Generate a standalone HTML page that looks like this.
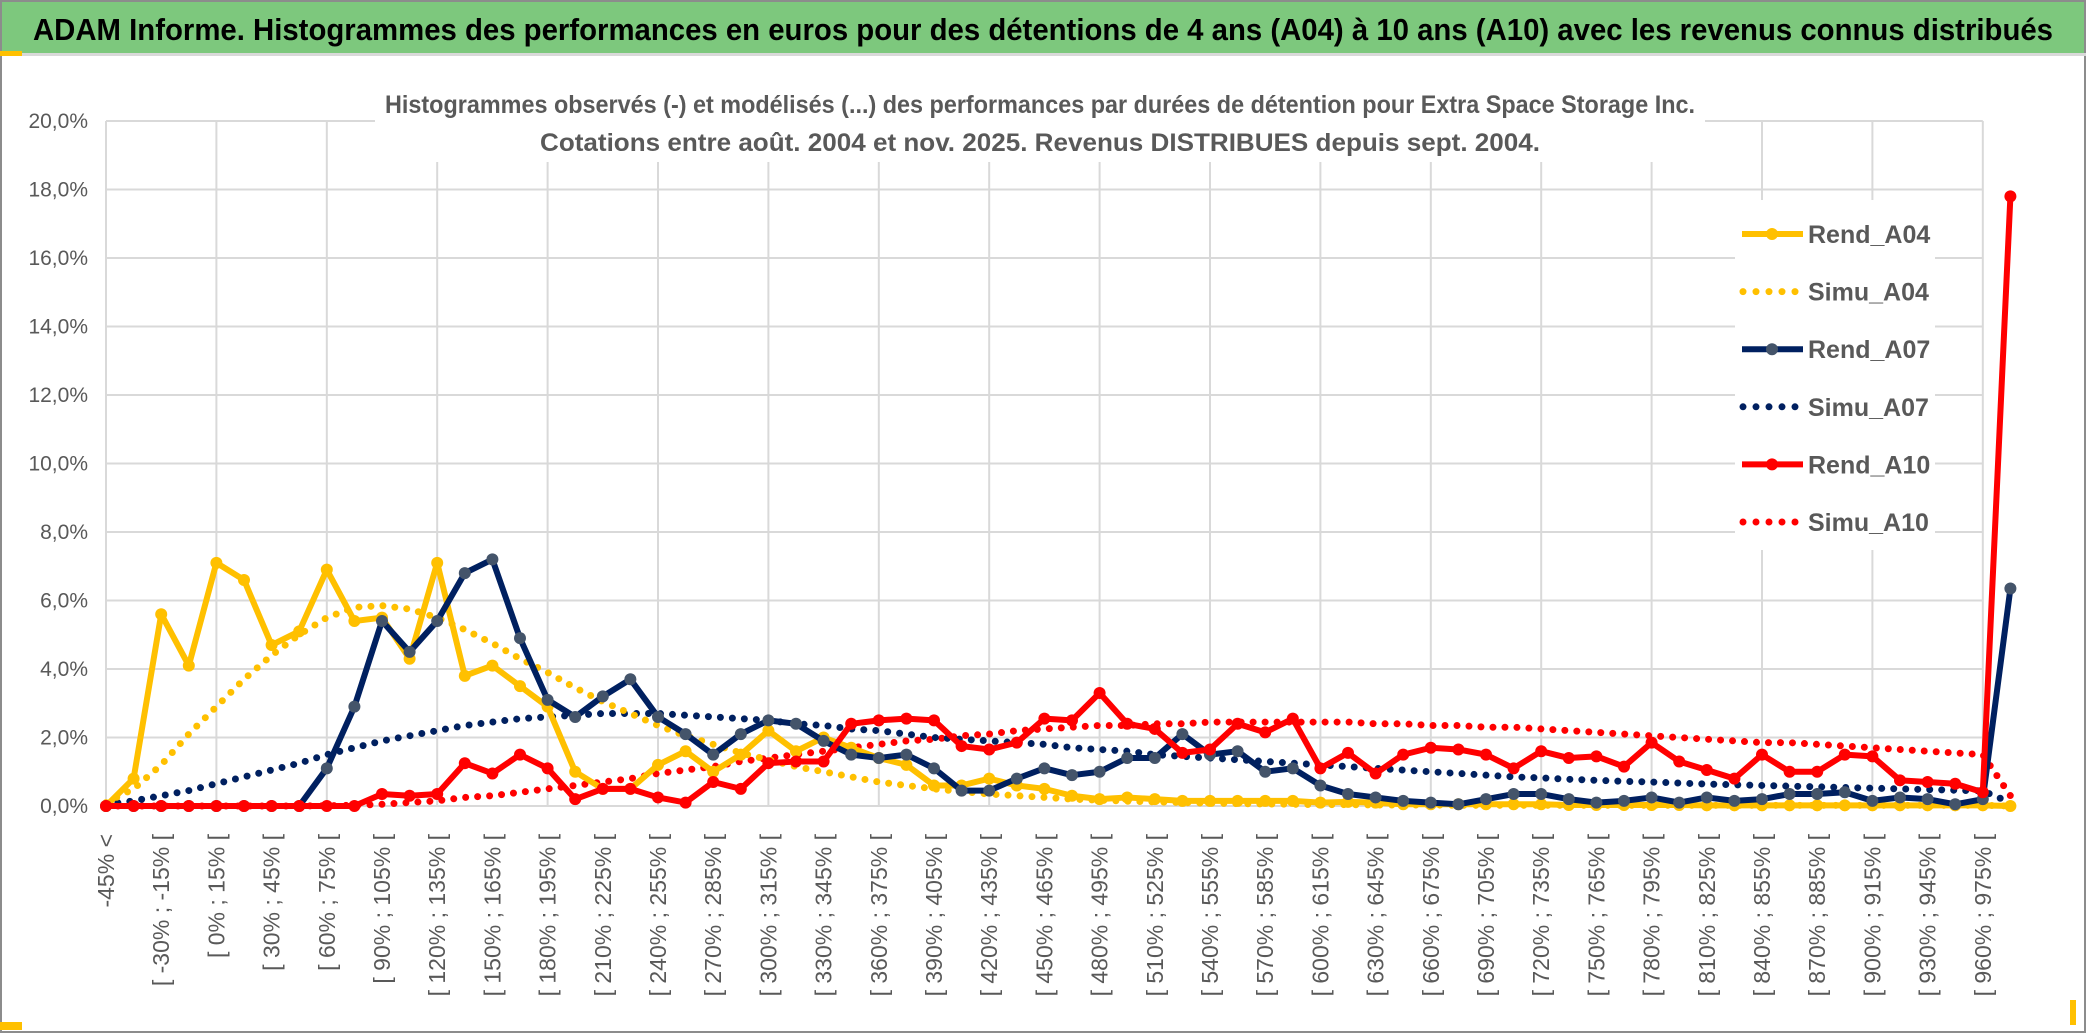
<!DOCTYPE html>
<html><head><meta charset="utf-8"><style>
html,body{margin:0;padding:0;background:#fff;}
svg{display:block;font-family:"Liberation Sans Narrow","Liberation Sans",sans-serif;}
</style></head><body>
<svg id="chart" width="2086" height="1033" viewBox="0 0 2086 1033" xmlns="http://www.w3.org/2000/svg">
<rect x="0" y="0" width="2086" height="1033" fill="#fff"/>
<rect x="1" y="1" width="2084" height="1031" fill="none" stroke="#8c8c8c" stroke-width="2"/>
<rect x="2" y="2" width="2082" height="51" fill="#7DC87D"/>
<rect x="0" y="53" width="2086" height="3" fill="#d9d9d9"/>
<rect x="0" y="51" width="22" height="5" fill="#FFC000"/>
<rect x="0" y="1022" width="22" height="8" fill="#FFC000"/>
<rect x="2070" y="1000" width="6" height="25" fill="#FFC000"/>
<text x="33" y="40" font-size="31" font-weight="bold" fill="#000" textLength="2020" lengthAdjust="spacingAndGlyphs">ADAM Informe. Histogrammes des performances en euros pour des détentions de 4 ans (A04) à 10 ans (A10) avec les revenus connus distribués</text>
<g id="grid"></g>
<rect x="375" y="80" width="1330" height="82" fill="#fff"/>
<text x="1040" y="113" font-size="25" font-weight="600" fill="#595959" text-anchor="middle" textLength="1310" lengthAdjust="spacingAndGlyphs">Histogrammes observés (-) et modélisés (...) des performances par durées de détention pour Extra Space Storage Inc.</text>
<text x="1040" y="151" font-size="25" font-weight="600" fill="#595959" text-anchor="middle" textLength="1000" lengthAdjust="spacingAndGlyphs">Cotations entre août. 2004 et nov. 2025. Revenus DISTRIBUES depuis sept. 2004.</text>
<g id="yticks"></g>
<g id="xticks"></g>
<rect x="1735" y="200" width="200" height="350" fill="#fff"/>
<g id="series"></g>
<g id="legend"></g>
</svg>
<script>
const simuA04 = [0.1,0.5,1.2,2.1,2.9,3.7,4.4,5.0,5.5,5.8,5.85,5.75,5.5,5.15,4.75,4.3,3.9,3.45,3.05,2.7,2.35,2.05,1.8,1.55,1.35,1.15,1.0,0.85,0.7,0.6,0.5,0.42,0.35,0.3,0.25,0.2,0.17,0.14,0.12,0.1,0.08,0.07,0.06,0.05,0.04,0.04,0.03,0.03,0.03,0.02,0.02,0.02,0.02,0.02,0.02,0.02,0.02,0.02,0.02,0.02,0.02,0.02,0.02,0.02,0.02,0.02,0.02,0.02,0.02,0];
const rendA04 = [0,0.8,5.6,4.1,7.1,6.6,4.7,5.1,6.9,5.4,5.5,4.3,7.1,3.8,4.1,3.5,2.9,1.0,0.5,0.5,1.2,1.6,1.0,1.5,2.2,1.6,2.0,1.7,1.4,1.2,0.6,0.6,0.8,0.6,0.5,0.3,0.2,0.25,0.2,0.15,0.15,0.15,0.15,0.15,0.1,0.12,0.1,0.05,0.05,0.05,0.05,0.05,0.05,0.03,0.03,0.03,0.03,0.03,0.02,0.02,0.02,0.02,0.02,0.02,0.02,0.02,0.02,0.02,0.02,0];
const simuA07 = [0.05,0.15,0.3,0.45,0.65,0.85,1.05,1.25,1.5,1.7,1.9,2.05,2.2,2.35,2.45,2.55,2.6,2.65,2.7,2.7,2.7,2.65,2.6,2.55,2.5,2.4,2.35,2.25,2.2,2.1,2.0,1.95,1.9,1.85,1.8,1.7,1.65,1.6,1.5,1.45,1.4,1.35,1.3,1.25,1.2,1.15,1.1,1.05,1.0,0.95,0.9,0.85,0.82,0.78,0.75,0.72,0.7,0.67,0.64,0.62,0.6,0.58,0.56,0.54,0.52,0.5,0.48,0.46,0.44,0.1];
const rendA07 = [0,0,0,0,0,0,0,0,1.1,2.9,5.4,4.5,5.4,6.8,7.2,4.9,3.1,2.6,3.2,3.7,2.6,2.1,1.5,2.1,2.5,2.4,1.9,1.5,1.4,1.5,1.1,0.45,0.45,0.8,1.1,0.9,1.0,1.4,1.4,2.1,1.5,1.6,1.0,1.1,0.6,0.35,0.25,0.15,0.1,0.05,0.2,0.35,0.35,0.2,0.1,0.15,0.25,0.1,0.25,0.15,0.2,0.35,0.35,0.4,0.15,0.25,0.2,0.05,0.2,6.35];
const simuA10 = [0,0,0,0,0,0,0,0,0.01,0.02,0.05,0.1,0.15,0.25,0.3,0.4,0.5,0.6,0.7,0.8,0.95,1.05,1.15,1.3,1.4,1.5,1.6,1.7,1.8,1.9,1.95,2.05,2.1,2.2,2.25,2.3,2.35,2.35,2.4,2.4,2.45,2.45,2.45,2.45,2.45,2.45,2.4,2.4,2.35,2.35,2.3,2.3,2.25,2.2,2.15,2.1,2.05,2.0,1.95,1.9,1.85,1.85,1.8,1.75,1.7,1.65,1.6,1.55,1.5,0.3];
const rendA10 = [0,0,0,0,0,0,0,0,0,0,0.35,0.3,0.35,1.25,0.95,1.5,1.1,0.2,0.5,0.5,0.25,0.1,0.7,0.5,1.25,1.3,1.3,2.4,2.5,2.55,2.5,1.75,1.65,1.85,2.55,2.5,3.3,2.4,2.25,1.55,1.65,2.4,2.15,2.55,1.1,1.55,0.95,1.5,1.7,1.65,1.5,1.1,1.6,1.4,1.45,1.15,1.85,1.3,1.05,0.8,1.5,1.0,1.0,1.5,1.45,0.75,0.7,0.65,0.4,17.8];
const yTicks = [0,2,4,6,8,10,12,14,16,18,20];
const categories = ["-45% <"];
for (let a = -45; a <= 960; a += 15) categories.push("[ " + a + "% ; " + (a + 15) + "% [");

const NS = "http://www.w3.org/2000/svg";
const X0 = 106, DX = 27.6, Y0 = 806, YTOP = 121, YMAX = 20;
const xs = i => X0 + i * DX;
const ys = v => Y0 - (v / YMAX) * (Y0 - YTOP);
function mk(tag, attrs, parent) {
  const e = document.createElementNS(NS, tag);
  for (const k in attrs) e.setAttribute(k, attrs[k]);
  parent.appendChild(e);
  return e;
}
const grid = document.getElementById('grid');
yTicks.forEach(t => {
  const l = mk('line', {x1: X0, x2: xs(categories.length - 1), y1: ys(t), y2: ys(t), stroke: '#d9d9d9', 'stroke-width': 2}, grid);
  
  
});
for (let i = 0; i < categories.length; i += 4) {
  const l = mk('line', {x1: xs(i), x2: xs(i), y1: YTOP, y2: Y0, stroke: '#d9d9d9', 'stroke-width': 2}, grid);
  
  
}
const yt = document.getElementById('yticks');
yTicks.forEach(t => {
  const tx = mk('text', {x: 88, y: ys(t) + 7, 'font-size': 21, fill: '#595959', 'text-anchor': 'end'}, yt);
  tx.textContent = t.toFixed(1).replace('.', ',') + '%';
  
  
});
const xt = document.getElementById('xticks');
categories.forEach((c, i) => {
  if (i % 2) return;
  const x = xs(i) + 8, y = 834;
  const tx = mk('text', {x: x, y: y, 'font-size': 23, 'font-family': '"Liberation Sans", sans-serif', fill: '#595959', 'text-anchor': 'end', transform: 'rotate(-90 ' + x + ' ' + y + ')'}, xt);
  tx.textContent = c;
  
  
});
const sg = document.getElementById('series');
function dotted(data, color, name) {
  const p = mk('polyline', {points: data.map((v, i) => xs(i) + ',' + ys(v)).join(' '), fill: 'none', stroke: color, 'stroke-width': 7, 'stroke-linecap': 'round', 'stroke-dasharray': '0 12'}, sg);
  
  
}
function solid(data, color, mcolor, name) {
  const g = mk('g', {}, sg);
  
  
  mk('polyline', {points: data.map((v, i) => xs(i) + ',' + ys(v)).join(' '), fill: 'none', stroke: color, 'stroke-width': 6, 'stroke-linejoin': 'round'}, g);
  data.forEach((v, i) => {
    const c = mk('circle', {cx: xs(i), cy: ys(v), r: 6, fill: mcolor}, g);
    
    
  });
}
dotted(simuA10, '#FF0000', 'simu-a10-line');
dotted(simuA07, '#002060', 'simu-a07-line');
dotted(simuA04, '#FFC000', 'simu-a04-line');
solid(rendA04, '#FFC000', '#FFC000', 'rend-a04-line');
solid(rendA07, '#002060', '#44546A', 'rend-a07-line');
solid(rendA10, '#FF0000', '#FF0000', 'rend-a10-line');

const lg = document.getElementById('legend');
const items = [['Rend_A04', '#FFC000', '#FFC000', false], ['Simu_A04', '#FFC000', null, true], ['Rend_A07', '#002060', '#44546A', false], ['Simu_A07', '#002060', null, true], ['Rend_A10', '#FF0000', '#FF0000', false], ['Simu_A10', '#FF0000', null, true]];
items.forEach((it, k) => {
  const y = 234 + k * 57.6;
  const g = mk('g', {}, lg);
  
  
  if (it[3]) {
    mk('line', {x1: 1743, x2: 1803, y1: y, y2: y, stroke: it[1], 'stroke-width': 7, 'stroke-linecap': 'round', 'stroke-dasharray': '0 13'}, g);
  } else {
    mk('line', {x1: 1742, x2: 1803, y1: y, y2: y, stroke: it[1], 'stroke-width': 6}, g);
    mk('circle', {cx: 1772, cy: y, r: 6, fill: it[2]}, g);
  }
  const t = mk('text', {x: 1808, y: y + 9, 'font-size': 25, 'font-weight': 'bold', fill: '#595959'}, g);
  t.textContent = it[0];
});
</script>
</body></html>
